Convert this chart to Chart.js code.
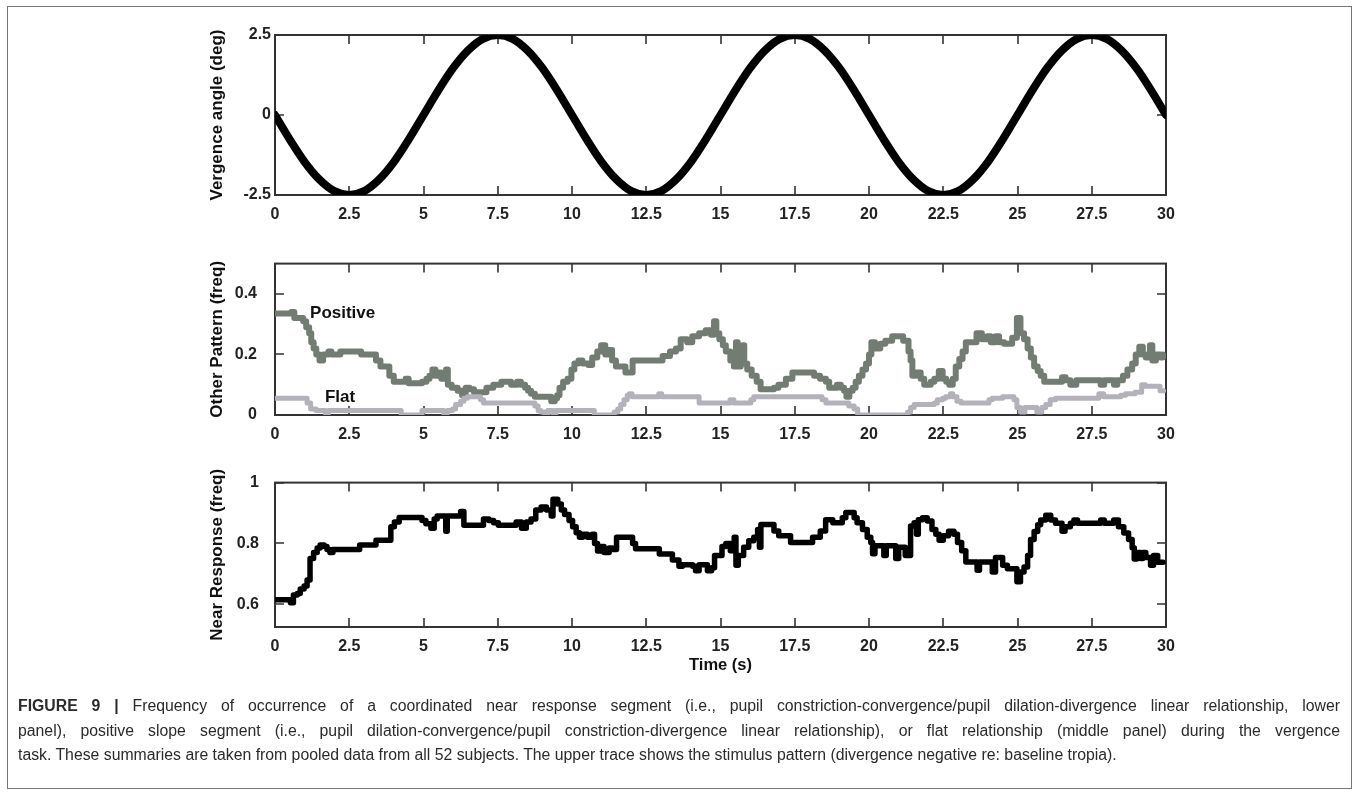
<!DOCTYPE html>
<html>
<head>
<meta charset="utf-8">
<script src="https://cdn.jsdelivr.net/npm/chart.js@4.4.1/dist/chart.umd.min.js"></script>
<style>
  body { margin: 0; background: #fff; width: 1357px; height: 812px; overflow: hidden; position: relative; }
  #frame { position: absolute; left: 7px; top: 6px; width: 1345px; height: 783px; border: 1px solid #777; box-sizing: border-box; }
  canvas { position: absolute; left: 150px; }
  #cap { position: absolute; left: 18px; top: 694px; width: 1322px; font: 15.8px "Liberation Sans", Arial, sans-serif; color: #2a2a2a; line-height: 24.5px; }
  #cap .j { text-align: justify; text-align-last: justify; white-space: nowrap; }
</style>
</head>
<body>
<div id="frame"></div>
<canvas id="cTop" width="1060" height="220" style="top:15px"></canvas>
<canvas id="cMid" width="1060" height="219" style="top:236px"></canvas>
<canvas id="cBot" width="1060" height="240" style="top:457px"></canvas>
<div id="cap">
  <div class="j"><b>FIGURE 9 |</b> Frequency of occurrence of a coordinated near response segment (i.e., pupil constriction-convergence/pupil dilation-divergence linear relationship, lower</div>
  <div class="j">panel), positive slope segment (i.e., pupil dilation-convergence/pupil constriction-divergence linear relationship), or flat relationship (middle panel) during the vergence</div>
  <div>task. These summaries are taken from pooled data from all 52 subjects. The upper trace shows the stimulus pattern (divergence negative re: baseline tropia).</div>
</div>
<script>
// tick labels
const timeTicks = [0, 2.5, 5, 7.5, 10, 12.5, 15, 17.5, 20, 22.5, 25, 27.5, 30];
const vergTicks = [-2.5, 0, 2.5];
const otherTicks = [0, 0.2, 0.4];
const nearTicks = [0.6, 0.8, 1];

// stimulus (top trace), deg
const sineT = [0, 0.5, 1, 1.5, 2, 2.5, 3, 3.5, 4, 4.5, 5, 5.5, 6, 6.5, 7, 7.5, 8, 8.5, 9, 9.5,
  10, 10.5, 11, 11.5, 12, 12.5, 13, 13.5, 14, 14.5, 15, 15.5, 16, 16.5, 17, 17.5, 18, 18.5, 19, 19.5,
  20, 20.5, 21, 21.5, 22, 22.5, 23, 23.5, 24, 24.5, 25, 25.5, 26, 26.5, 27, 27.5, 28, 28.5, 29, 29.5, 30];
const sineV = [0, -0.77, -1.47, -2.02, -2.38, -2.5, -2.38, -2.02, -1.47, -0.77, 0, 0.77, 1.47, 2.02, 2.38, 2.5, 2.38, 2.02, 1.47, 0.77,
  0, -0.77, -1.47, -2.02, -2.38, -2.5, -2.38, -2.02, -1.47, -0.77, 0, 0.77, 1.47, 2.02, 2.38, 2.5, 2.38, 2.02, 1.47, 0.77,
  0, -0.77, -1.47, -2.02, -2.38, -2.5, -2.38, -2.02, -1.47, -0.77, 0, 0.77, 1.47, 2.02, 2.38, 2.5, 2.38, 2.02, 1.47, 0.77, 0];

// positive slope frequency
const posT = [0, 0.55, 0.65, 0.95, 1.05, 1.15, 1.22, 1.3, 1.39, 1.5, 1.62, 1.8, 1.9, 2.2, 2.9, 3.4, 3.55, 3.85, 4.0, 4.4,
  4.5, 4.95, 5.1, 5.2, 5.3, 5.4, 5.48, 5.6, 5.7, 5.76, 5.82, 5.95, 6.15, 6.3, 6.42, 6.55, 6.7, 7.12, 7.35, 7.62,
  7.95, 8.15, 8.28, 8.42, 8.52, 8.62, 8.75, 9.3, 9.42, 9.5, 9.58, 9.7, 9.85, 9.98, 10.08, 10.22, 10.35, 10.55, 10.68, 10.85,
  10.98, 11.12, 11.22, 11.35, 11.48, 11.8, 12.04, 13.05, 13.3, 13.5, 13.66, 13.88, 14.05, 14.28, 14.5, 14.68, 14.78, 14.86, 14.96, 15.08,
  15.18, 15.33, 15.45, 15.52, 15.58, 15.68, 15.75, 15.8, 15.9, 16.05, 16.22, 16.35, 16.8, 16.95, 17.2, 17.42, 18.15, 18.35, 18.55, 18.66,
  18.92, 19.05, 19.16, 19.24, 19.34, 19.45, 19.55, 19.66, 19.78, 19.9, 20.0, 20.08, 20.2, 20.38, 20.55, 20.78, 21.15, 21.33, 21.4, 21.46,
  21.58, 21.74, 21.86, 22.08, 22.2, 22.35, 22.48, 22.6, 22.7, 22.82, 22.92, 23.04, 23.15, 23.26, 23.62, 23.8, 23.98, 24.1, 24.26, 24.38,
  24.55, 24.82, 24.98, 25.1, 25.22, 25.34, 25.45, 25.56, 25.68, 25.78, 25.9, 26.5, 26.62, 26.78, 26.98, 27.8, 27.92, 28.25, 28.36, 28.55,
  28.7, 28.86, 28.98, 29.1, 29.22, 29.32, 29.46, 29.54, 29.66, 29.82, 29.9];
const posV = [0.335, 0.34, 0.32, 0.31, 0.29, 0.27, 0.24, 0.22, 0.2, 0.18, 0.2, 0.21, 0.2, 0.21, 0.2, 0.18, 0.16, 0.13, 0.11, 0.12,
  0.105, 0.11, 0.12, 0.13, 0.15, 0.13, 0.14, 0.12, 0.13, 0.15, 0.1, 0.09, 0.08, 0.065, 0.09, 0.085, 0.075, 0.09, 0.1, 0.11,
  0.1, 0.11, 0.1, 0.09, 0.08, 0.07, 0.06, 0.045, 0.055, 0.065, 0.09, 0.11, 0.12, 0.15, 0.17, 0.18, 0.17, 0.165, 0.19, 0.21,
  0.23, 0.2, 0.215, 0.18, 0.16, 0.14, 0.18, 0.195, 0.21, 0.22, 0.25, 0.24, 0.26, 0.27, 0.28, 0.265, 0.31, 0.27, 0.25, 0.23,
  0.21, 0.18, 0.16, 0.24, 0.16, 0.18, 0.23, 0.17, 0.15, 0.13, 0.11, 0.085, 0.09, 0.1, 0.12, 0.14, 0.13, 0.12, 0.11, 0.09,
  0.1, 0.09, 0.08, 0.06, 0.08, 0.09, 0.11, 0.13, 0.15, 0.17, 0.2, 0.24, 0.22, 0.235, 0.245, 0.26, 0.245, 0.21, 0.18, 0.13,
  0.14, 0.12, 0.1, 0.11, 0.12, 0.145, 0.12, 0.11, 0.1, 0.12, 0.16, 0.185, 0.21, 0.24, 0.27, 0.25, 0.26, 0.24, 0.26, 0.24,
  0.235, 0.255, 0.32, 0.27, 0.25, 0.22, 0.19, 0.16, 0.145, 0.13, 0.11, 0.125, 0.115, 0.1, 0.115, 0.1, 0.115, 0.1, 0.115, 0.13,
  0.15, 0.17, 0.2, 0.225, 0.2, 0.19, 0.23, 0.18, 0.2, 0.19, 0.2];

// flat relationship frequency
const flatT = [0, 1.08, 1.2, 1.38, 1.7, 1.8, 4.25, 4.95, 5.68, 5.8, 5.98, 6.08, 6.25, 6.36, 6.48, 6.92, 7.02, 8.75, 8.86, 8.95,
  9.08, 9.18, 9.36, 9.46, 10.75, 11.42, 11.54, 11.64, 11.75, 11.86, 11.93, 12.02, 12.92, 13.02, 14.28, 15.32, 15.45, 16.02, 16.12, 18.42,
  18.55, 19.32, 19.5, 19.62, 21.3, 21.4, 21.52, 22.2, 22.3, 22.48, 22.58, 22.74, 22.82, 22.96, 23.1, 24.04, 24.15, 24.5, 24.88, 24.98,
  25.1, 25.25, 25.65, 25.82, 25.95, 26.1, 26.28, 27.74, 27.9, 28.48, 28.64, 28.96, 29.18, 29.3, 29.8, 29.92];
const flatV = [0.055, 0.04, 0.02, 0.015, 0.005, 0.015, 0, 0.015, 0.005, 0.015, 0.02, 0.035, 0.045, 0.055, 0.06, 0.05, 0.04, 0.03, 0.015, 0.01,
  0, 0.015, 0.005, 0.015, 0, 0.01, 0.02, 0.035, 0.05, 0.065, 0.07, 0.06, 0.07, 0.06, 0.04, 0.05, 0.04, 0.05, 0.06, 0.05,
  0.04, 0.03, 0.02, 0, 0.01, 0.025, 0.035, 0.04, 0.05, 0.055, 0.06, 0.07, 0.06, 0.045, 0.04, 0.05, 0.055, 0.06, 0.05, 0.025,
  0.01, 0.025, 0.01, 0.025, 0.035, 0.05, 0.055, 0.07, 0.06, 0.065, 0.07, 0.075, 0.1, 0.095, 0.08, 0.08];

// near response frequency
const nearT = [0, 0.52, 0.62, 0.75, 0.85, 0.98, 1.08, 1.18, 1.3, 1.42, 1.52, 1.65, 1.75, 1.85, 1.95, 2.85, 3.4, 3.9, 4.02, 4.18,
  4.95, 5.08, 5.25, 5.36, 5.46, 5.75, 5.8, 6.25, 6.36, 7.02, 7.2, 7.36, 7.52, 8.12, 8.3, 8.46, 8.62, 8.78, 8.96, 9.14,
  9.3, 9.36, 9.52, 9.64, 9.75, 9.9, 10.02, 10.14, 10.25, 10.36, 10.52, 10.68, 10.76, 10.86, 10.98, 11.08, 11.25, 11.36, 11.5, 12.04,
  12.14, 12.94, 13.38, 13.6, 13.72, 14.06, 14.16, 14.28, 14.56, 14.7, 14.8, 15.05, 15.18, 15.33, 15.46, 15.52, 15.6, 15.78, 15.95, 16.12,
  16.25, 16.31, 16.36, 16.8, 16.96, 17.36, 18.1, 18.36, 18.54, 18.78, 19.1, 19.22, 19.5, 19.6, 19.78, 19.94, 20.06, 20.12, 20.2, 20.5,
  20.58, 20.9, 21.0, 21.22, 21.4, 21.52, 21.6, 21.66, 21.8, 21.96, 22.12, 22.25, 22.36, 22.5, 22.68, 22.86, 22.98, 23.12, 23.26, 23.64,
  23.72, 24.15, 24.26, 24.5, 24.66, 24.98, 25.1, 25.22, 25.34, 25.44, 25.56, 25.68, 25.78, 25.95, 26.12, 26.28, 26.5, 26.6, 26.78, 26.9,
  27.02, 27.8, 27.92, 28.24, 28.4, 28.58, 28.74, 28.86, 28.93, 29.02, 29.15, 29.22, 29.32, 29.48, 29.58, 29.72, 29.9];
const nearV = [0.615, 0.605, 0.63, 0.635, 0.65, 0.66, 0.68, 0.75, 0.77, 0.785, 0.795, 0.79, 0.78, 0.77, 0.78, 0.795, 0.81, 0.855, 0.87, 0.885,
  0.875, 0.865, 0.85, 0.88, 0.89, 0.84, 0.89, 0.905, 0.86, 0.88, 0.875, 0.868, 0.86, 0.87, 0.85, 0.87, 0.88, 0.91, 0.92, 0.91,
  0.89, 0.945, 0.93, 0.91, 0.895, 0.875, 0.855, 0.835, 0.82, 0.83, 0.82, 0.83, 0.8, 0.775, 0.79, 0.77, 0.785, 0.78, 0.82, 0.8,
  0.782, 0.765, 0.745, 0.725, 0.73, 0.725, 0.71, 0.73, 0.71, 0.72, 0.76, 0.79, 0.8, 0.776, 0.82, 0.728, 0.76, 0.787, 0.809, 0.82,
  0.846, 0.787, 0.862, 0.841, 0.825, 0.803, 0.82, 0.841, 0.878, 0.868, 0.884, 0.902, 0.884, 0.868, 0.846, 0.82, 0.803, 0.766, 0.792, 0.76,
  0.792, 0.75, 0.787, 0.76, 0.857, 0.868, 0.83, 0.878, 0.884, 0.874, 0.846, 0.83, 0.81, 0.825, 0.84, 0.83, 0.803, 0.776, 0.739, 0.712,
  0.739, 0.706, 0.754, 0.728, 0.717, 0.674, 0.706, 0.722, 0.76, 0.813, 0.839, 0.861, 0.877, 0.893, 0.877, 0.866, 0.84, 0.855, 0.866, 0.877,
  0.866, 0.877, 0.866, 0.877, 0.855, 0.834, 0.813, 0.786, 0.749, 0.77, 0.75, 0.77, 0.754, 0.728, 0.76, 0.738, 0.738];

// in-plot labels of the middle panel (data coordinates)
const noteText = ["Positive", "Flat"];
const noteT = [1.18, 1.68];
const noteV = [0.337, 0.058];

const FONT = '"Liberation Sans", Arial, sans-serif';
Chart.defaults.font.family = FONT;
Chart.defaults.color = "#222";

const pts = (ts, vs) => ts.map((t, i) => ({ x: t, y: vs[i] }));

// MATLAB style box with inward ticks
const boxPlugin = {
  id: "box",
  beforeDatasetsDraw(chart) {
    const { ctx, chartArea: a, scales: { x, y } } = chart;
    ctx.save();
    ctx.strokeStyle = "#333";
    ctx.lineWidth = 2;
    ctx.strokeRect(a.left, a.top, a.right - a.left, a.bottom - a.top);
    ctx.lineWidth = 1.6;
    ctx.beginPath();
    x.ticks.forEach((t) => {
      const px = Math.round(x.getPixelForValue(t.value));
      ctx.moveTo(px, a.bottom); ctx.lineTo(px, a.bottom - 9);
      ctx.moveTo(px, a.top); ctx.lineTo(px, a.top + 9);
    });
    y.ticks.forEach((t) => {
      const py = Math.round(y.getPixelForValue(t.value));
      ctx.moveTo(a.left, py); ctx.lineTo(a.left + 9, py);
      ctx.moveTo(a.right, py); ctx.lineTo(a.right - 9, py);
    });
    ctx.stroke();
    ctx.restore();
  },
};

const notePlugin = {
  id: "notes",
  afterDatasetsDraw(chart) {
    if (chart.canvas.id !== "cMid") return;
    const { ctx, scales: { x, y } } = chart;
    ctx.save();
    ctx.font = "bold 17px " + FONT;
    ctx.fillStyle = "#111";
    ctx.textBaseline = "middle";
    noteText.forEach((s, i) => ctx.fillText(s, x.getPixelForValue(noteT[i]), y.getPixelForValue(noteV[i])));
    ctx.restore();
  },
};

function makeChart(id, datasets, yMin, yMax, yTicks, yTitle, yPad, xH, xTitle) {
  return new Chart(document.getElementById(id), {
    type: "line",
    data: { datasets },
    plugins: [boxPlugin, notePlugin],
    options: {
      responsive: false,
      animation: false,
      layout: { padding: { top: 20, right: 44, left: 0, bottom: 0 } },
      plugins: { legend: { display: false }, tooltip: { enabled: false } },
      elements: { point: { radius: 0 } },
      scales: {
        x: {
          type: "linear", min: 0, max: 30,
          afterBuildTicks: (s) => { s.ticks = timeTicks.map((v) => ({ value: v })); },
          afterFit: (s) => { s.height = xH; },
          grid: { display: false, drawTicks: false },
          border: { display: false },
          ticks: { padding: 10, font: { size: 16, weight: "bold" }, color: "#222", maxRotation: 0, callback: (v) => String(v) },
          title: xTitle
            ? { display: true, text: xTitle, font: { size: 16.5, weight: "bold" }, color: "#111", padding: { top: 0, bottom: 22 } }
            : { display: false },
        },
        y: {
          type: "linear", min: yMin, max: yMax,
          afterBuildTicks: (s) => { s.ticks = yTicks.map((v) => ({ value: v })); },
          afterFit: (s) => { s.width = 125; },
          grid: { display: false, drawTicks: false },
          border: { display: false },
          ticks: { padding: yPad, font: { size: 16, weight: "bold" }, color: "#222", callback: (v) => String(v) },
          title: { display: true, text: yTitle, font: { size: 17, weight: "bold" }, color: "#111", padding: { top: 57, bottom: 0 } },
        },
      },
    },
  });
}

makeChart("cTop", [{
  data: pts(sineT, sineV),
  borderColor: "#000", borderWidth: 8, cubicInterpolationMode: "monotone",
  borderCapStyle: "round", borderJoinStyle: "round",
}], -2.5, 2.5, vergTicks, "Vergence angle (deg)", 4, 40, null);

makeChart("cMid", [{
  data: pts(flatT, flatV),
  borderColor: "#b3b2ba", borderWidth: 5, stepped: true,
  borderCapStyle: "round", borderJoinStyle: "round",
}, {
  data: pts(posT, posV),
  borderColor: "#737c73", borderWidth: 6, stepped: true,
  borderCapStyle: "round", borderJoinStyle: "round",
}], 0, 0.5, otherTicks, "Other Pattern (freq)", 18, 40, null);

makeChart("cBot", [{
  data: pts(nearT, nearV),
  borderColor: "#000", borderWidth: 5.5, stepped: true,
  borderCapStyle: "round", borderJoinStyle: "round",
}], 0.525, 1, nearTicks, "Near Response (freq)", 16, 70, "Time (s)");
</script>
</body>
</html>
